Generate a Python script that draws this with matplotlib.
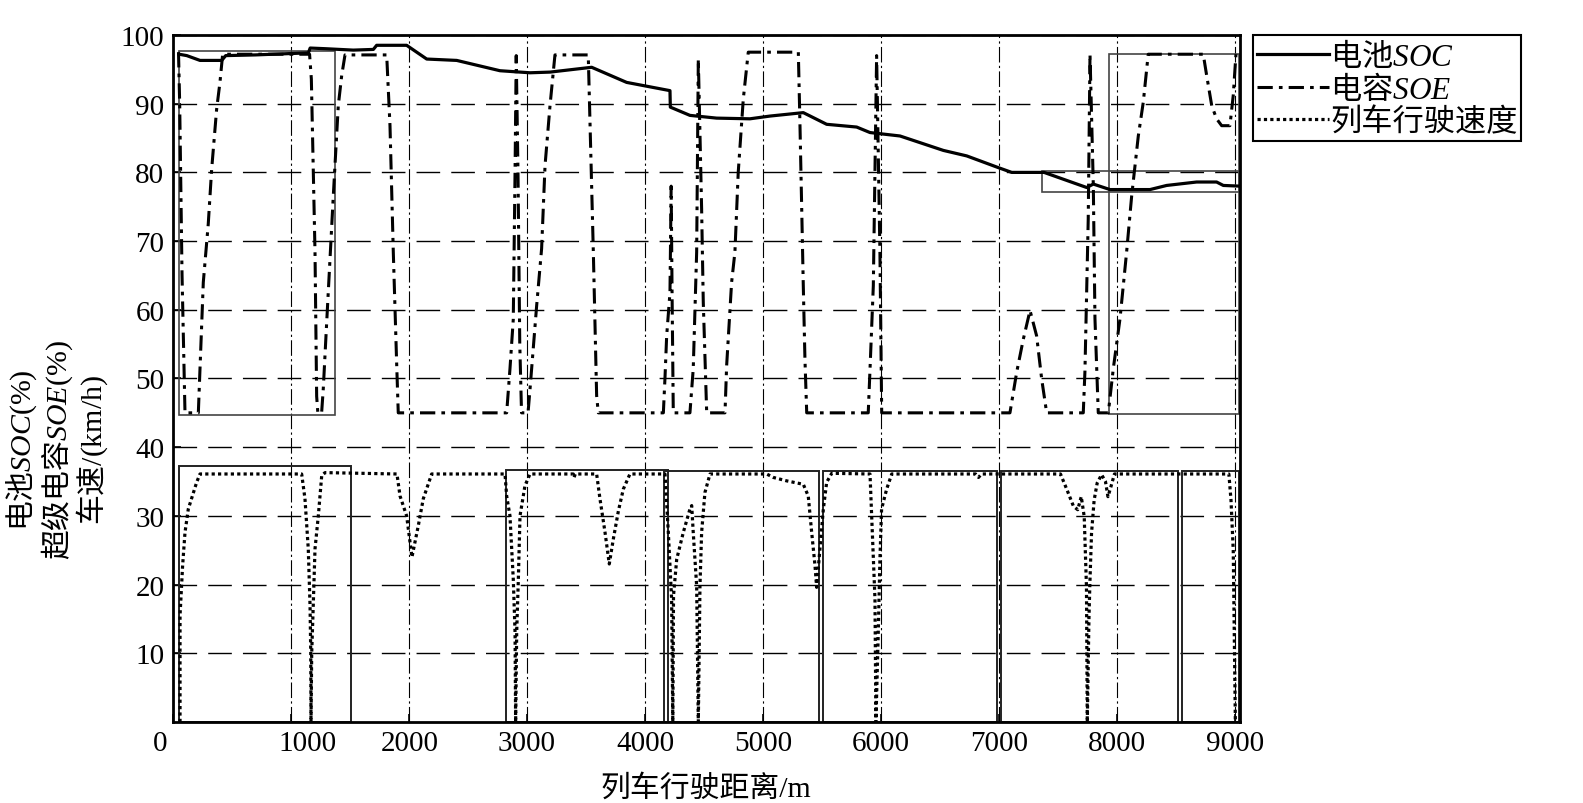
import matplotlib
matplotlib.use("Agg")
import matplotlib.pyplot as plt
import matplotlib.transforms as mtransforms
from matplotlib.patches import Rectangle

plt.rcParams['mathtext.fontset'] = 'custom'
plt.rcParams['mathtext.rm'] = 'Liberation Serif'
plt.rcParams['mathtext.it'] = 'Liberation Serif:italic'

# battery SOC (%)
soc_x = [55, 120, 232, 416, 450, 700, 1000, 1150, 1165, 1300, 1530, 1700, 1728, 1982,
         2152, 2406, 2772, 3027, 3197, 3549, 3845, 4212, 4215, 4381, 4607, 4889, 5059,
         5341, 5539, 5793, 5906, 6160, 6527, 6725, 6992, 7106, 7380, 7741, 7797, 7938,
         8277, 8418, 8672, 8841, 8898, 9039]
soc_y = [97.2, 97.0, 96.3, 96.3, 97.0, 97.1, 97.3, 97.4, 98.1, 98.0, 97.8, 97.9, 98.5, 98.5,
         96.5, 96.3, 94.8, 94.5, 94.6, 95.3, 93.1, 91.9, 89.5, 88.3, 87.9, 87.8, 88.2,
         88.7, 87.0, 86.6, 85.8, 85.3, 83.2, 82.4, 80.7, 80.0, 80.0, 77.8, 78.3, 77.5,
         77.5, 78.1, 78.6, 78.6, 78.1, 78.0]

# supercapacitor SOE (%)
soe_x = [50, 60, 80, 105, 218, 232, 260, 302, 331, 373, 401, 424, 1160, 1175, 1206, 1220,
         1230, 1262, 1276, 1305, 1333, 1361, 1403, 1432, 1460, 1813, 1841, 1869, 1898, 1911,
         2829, 2857, 2885, 2900, 2910, 2925, 2940, 2955, 3010, 3027, 3083, 3125, 3154, 3196,
         3238, 3520, 3563, 3591, 3605, 4156, 4170, 4184, 4212, 4222, 4230, 4240, 4381, 4409,
         4438, 4452, 4480, 4494, 4523, 4678, 4692, 4734, 4762, 4790, 4833, 4875, 5299, 5313,
         5327, 5341, 5355, 5370, 5891, 5905, 5934, 5962, 5990, 6005, 7091, 7148, 7204, 7261,
         7317, 7360, 7402, 7712, 7726, 7754, 7769, 7797, 7811, 7839, 7924, 7966, 8023, 8079,
         8122, 8178, 8220, 8262, 8728, 8757, 8800, 8841, 8884, 8954, 8982, 9005]
soe_y = [97.5, 90, 65, 45, 45, 51.4, 64, 72.5, 80.5, 89.2, 93.1, 97.2, 97.2, 93.6, 68.4, 47.4,
         45, 45, 48.5, 58.2, 67.4, 76.6, 89.7, 94.1, 97.1, 97.1, 86.8, 68.4, 51.9, 45,
         45, 51.4, 58.6, 80, 97.0, 80, 55, 45, 45, 48.5, 60.6, 68.9, 81, 89.7,
         97.1, 97.1, 68.4, 47.5, 45, 45, 50.2, 56.2, 62.5, 78, 62, 45, 45, 51.4,
         68.4, 96.5, 74.7, 61.1, 45, 45, 51.9, 64, 68.4, 80, 90.7, 97.5, 97.5, 86.8,
         75.2, 63.5, 52.8, 45, 45, 50.9, 63.5, 97.0, 68.4, 45, 45, 50.9, 55.7, 59.9,
         56.2, 49.9, 45, 45, 51, 73.2, 97.2, 78.1, 58.7, 45, 45, 51.4, 58.7, 68.4,
         76.6, 85.3, 90.2, 97.2, 97.2, 94.1, 89.7, 87.8, 86.8, 86.8, 91.2, 97.2]

# train speed (km/h)
spd_x = [63, 63, 85, 105, 133, 204, 232, 1093, 1121, 1149, 1164, 1170, 1172, 1178, 1191,
         1206, 1234, 1263, 1291, 1900, 1926, 1982, 2027, 2081, 2123, 2194, 2815, 2829, 2857,
         2885, 2900, 2905, 2914, 2928, 2942, 2984, 3027, 3393, 3400, 3410, 3591, 3619, 3662,
         3698, 3732, 3775, 3817, 3873, 4170, 4198, 4226, 4236, 4242, 4269, 4325, 4381, 4396,
         4409, 4438, 4452, 4466, 4480, 4508, 4551, 5031, 5087, 5200, 5341, 5383, 5412, 5440,
         5454, 5482, 5511, 5539, 5582, 5906, 5920, 5948, 5956, 5976, 5990, 6004, 6047, 6090,
         6800, 6825, 6850, 7519, 7574, 7629, 7665, 7695, 7720, 7739, 7746, 7760, 7768, 7782,
         7804, 7830, 7867, 7900, 7921, 7947, 7976, 8945, 8963, 8982, 9000]
spd_y = [0, 15.5, 22.8, 27.6, 31, 34.9, 36.1, 36.1, 32.5, 25.2, 16.9, 10, 0, 10, 16.9,
         25.2, 30, 35.9, 36.3, 36.1, 32.9, 30, 24, 28.6, 32.5, 36.1, 36.1, 32.9, 30,
         20.8, 13.1, 0, 13.1, 20.8, 30, 34.4, 36.1, 36.1, 35.6, 36.1, 36.1, 32.5, 27.6,
         23, 26.6, 30.7, 33.9, 36.1, 36.1, 27.6, 17.9, 0, 18.4, 23.7, 27.6, 31, 31.5,
         27.6, 19.8, 0, 19.8, 27.6, 33.4, 36.1, 36.1, 35.6, 35.1, 34.6, 32.9, 27.6, 22.8,
         19.6, 25.2, 31, 34.9, 36.2, 36.1, 30, 17.9, 0, 13.1, 23.7, 31, 33.9, 36.1,
         36.1, 35.6, 36.1, 36.1, 33.8, 31.4, 30.9, 32.8, 29.9, 19.7, 0, 15, 20.2, 27.5,
         32.3, 34.8, 36, 35, 32.8, 34.3, 36.1, 36.1, 32.3, 25, 0]

# highlight boxes: (x0, x1, y0, y1)
box_upper = [(54, 1375, 44.7, 97.6), (7930, 9030, 44.9, 97.3), (7360, 9030, 77.2, 80.2)]
box_lower = [(55, 1510, 0, 37.2), (2820, 4198, 0, 36.7), (4162, 5474, 0, 36.5),
             (5510, 6985, 0, 36.5), (7015, 8515, 0, 36.5), (8550, 9030, 0, 36.5)]

x_ticks = [0, 1000, 2000, 3000, 4000, 5000, 6000, 7000, 8000, 9000]
y_ticks = [10, 20, 30, 40, 50, 60, 70, 80, 90, 100]
# the scanned figure has the first two x labels nudged sideways (pixels)
x_label_shift = [-12, 17, 1, 0, 0, 0, 0, 0, 0, 0]

fig = plt.figure(figsize=(15.83, 8.04), dpi=100)
ax = fig.add_axes([0.10903, 0.10075, 0.67435, 0.85448])

ax.set_xlim(0, 9040)
ax.set_ylim(0, 100)
ax.set_xticks(x_ticks)
ax.set_yticks(y_ticks)

ax.grid(axis='y', linestyle=(0, (17, 8)), color='k', lw=1.0)
ax.grid(axis='x', linestyle=(0, (14, 3, 2, 3)), color='k', lw=0.8)

for b in box_upper:
    ax.add_patch(Rectangle((b[0], b[2]), b[1] - b[0], b[3] - b[2], fill=False,
                           edgecolor='#444444', lw=1.2, zorder=2))
for b in box_lower:
    ax.add_patch(Rectangle((b[0], b[2]), b[1] - b[0], b[3] - b[2], fill=False,
                           edgecolor='#222222', lw=1.4, zorder=2))

ax.plot(soc_x, soc_y, color='k', lw=2.3, linestyle='-', label=r'电池$\mathit{SOC}$', zorder=3)
ax.plot(soe_x, soe_y, color='k', lw=2.2, linestyle=(0, (5, 2, 1.2, 2)),
        label=r'电容$\mathit{SOE}$', zorder=3)
ax.plot(spd_x, spd_y, color='k', lw=2.3, linestyle=(0, (1, 1)), label='列车行驶速度', zorder=3)

for s in ax.spines.values():
    s.set_linewidth(2)

ax.tick_params(direction='in', length=6, width=1.2, labelsize=21, pad=6)
for lab in ax.get_xticklabels() + ax.get_yticklabels():
    lab.set_fontfamily('Liberation Serif')
for lab, dx in zip(ax.get_xticklabels(), x_label_shift):
    lab.set_transform(lab.get_transform() + mtransforms.ScaledTranslation(dx / 100, 0, fig.dpi_scale_trans))

ax.set_xlabel('列车行驶距离/m', fontsize=21.5, family=['Liberation Serif', 'Noto Sans CJK SC'])
ax.xaxis.set_label_coords(0.5, -0.075)

fig.text(0.0363, 0.4403,
         r'电池$\mathit{SOC}\mathrm{(\%)}$' + '\n' + r'超级电容$\mathit{SOE}\mathrm{(\%)}$' + '\n'
         + r'车速$\mathrm{/(km/h)}$',
         rotation=90, ha='center', va='center', multialignment='center',
         fontsize=21.5, family='Noto Sans CJK SC', linespacing=1.0)

leg = ax.legend(loc='upper left', bbox_to_anchor=(0.7915, 0.9552), bbox_transform=fig.transFigure,
                borderaxespad=0, fancybox=False, edgecolor='k', framealpha=1,
                prop={'family': 'Noto Sans CJK SC', 'size': 22.5},
                handlelength=2.3, handletextpad=0.05, borderpad=0.12, labelspacing=0.0)
leg.get_frame().set_linewidth(1.5)

fig.savefig('out.png', dpi=100)
